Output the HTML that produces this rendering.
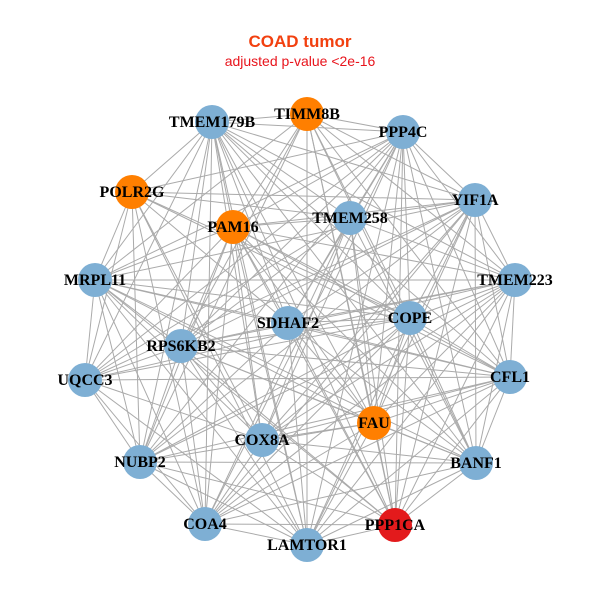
<!DOCTYPE html>
<html><head><meta charset="utf-8"><style>
html,body{margin:0;padding:0;background:#fff;width:600px;height:600px;overflow:hidden}
svg{display:block}
.t{font-family:"Liberation Sans",sans-serif}
.n{font-family:"Liberation Serif",serif;font-weight:bold;font-size:16px;fill:#000}
</style></head><body>
<svg id="s" width="600" height="600" viewBox="0 0 600 600">
<text class="t" x="300" y="47" text-anchor="middle" font-size="17" font-weight="bold" fill="#F2400F">COAD tumor</text>
<text class="t" x="300" y="66" text-anchor="middle" font-size="14" fill="#E8141C">adjusted p-value &lt;2e-16</text>
<g id="e" stroke="#AAAAAA" stroke-width="1"></g>
<g id="v"></g>
</svg>
<script>
var N=[["TIMM8B",307,114,"o"],["TMEM179B",212,122,"b"],["PPP4C",403,132,"b"],["POLR2G",132,192,"o"],["YIF1A",475,200,"b"],["PAM16",233,227,"o"],["TMEM258",350,218,"b"],["MRPL11",95,280,"b"],["TMEM223",515,280,"b"],["SDHAF2",288,323,"b"],["COPE",410,318,"b"],["RPS6KB2",181,346,"b"],["UQCC3",85,380,"b"],["CFL1",510,377,"b"],["FAU",374,423,"o"],["COX8A",262,440,"b"],["NUBP2",140,462,"b"],["BANF1",476,463,"b"],["COA4",205,524,"b"],["LAMTOR1",307,545,"b"],["PPP1CA",395,525,"r"]];
var C={o:"#FF7F00",b:"#7EAFD4",r:"#E31A1C"};
var ns="http://www.w3.org/2000/svg",e=document.getElementById("e"),v=document.getElementById("v");
for(var i=0;i<N.length;i++)for(var j=i+1;j<N.length;j++){
 if((i*7+j*3)%9==0)continue;
 var l=document.createElementNS(ns,"line");
 l.setAttribute("x1",N[i][1]);l.setAttribute("y1",N[i][2]);l.setAttribute("x2",N[j][1]);l.setAttribute("y2",N[j][2]);e.appendChild(l);}
N.forEach(function(n){var c=document.createElementNS(ns,"circle");c.setAttribute("cx",n[1]);c.setAttribute("cy",n[2]);c.setAttribute("r",17);c.setAttribute("fill",C[n[3]]);v.appendChild(c);});
N.forEach(function(n){var t=document.createElementNS(ns,"text");t.setAttribute("x",n[1]);t.setAttribute("y",n[2]+5);t.setAttribute("text-anchor","middle");t.setAttribute("class","n");t.textContent=n[0];v.appendChild(t);});
</script>
</body></html>
